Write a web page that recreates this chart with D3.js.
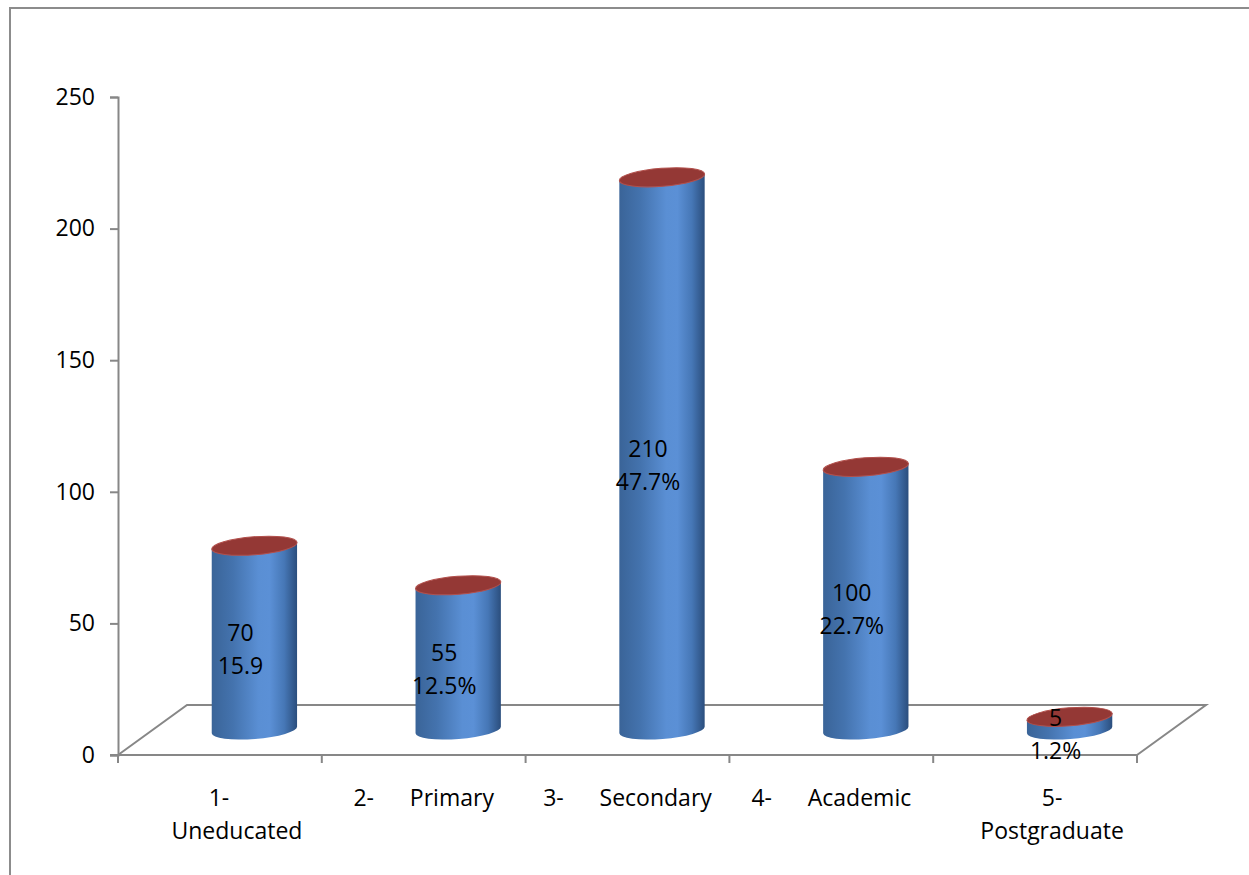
<!DOCTYPE html>
<html>
<head>
<meta charset="utf-8">
<script src="https://cdn.jsdelivr.net/npm/d3@7"></script>
<style>
  html, body { margin: 0; padding: 0; background: #ffffff; }
  svg { display: block; }
  text { font-family: "Open Sans", "DejaVu Sans", sans-serif; fill: #000; }
</style>
</head>
<body>
<svg id="chart" width="1249" height="875"></svg>
<script>
// Education level of respondents (count and share)
const categories = ["1- Uneducated", "2- Primary", "3- Secondary", "4- Academic", "5- Postgraduate"];
const categoryLabelLines = [
  ["1-      ", "Uneducated"],
  ["2-      Primary"],
  ["3-      Secondary"],
  ["4-      Academic"],
  ["5-", "Postgraduate"]
];
const counts = [70, 55, 210, 100, 5];
const shareLabels = ["15.9", "12.5%", "47.7%", "22.7%", "1.2%"];
const yTickValues = [0, 50, 100, 150, 200, 250];

const svg = d3.select("#chart");
const W = 1249, H = 875;

// outer chart frame (continues past the right and bottom edges)
svg.append("rect")
  .attr("x", 10).attr("y", 8)
  .attr("width", W + 20).attr("height", H + 20)
  .attr("fill", "none").attr("stroke", "#8c8c8c").attr("stroke-width", 2);

// front plane of the 3D plot
const plot = { left: 118, right: 1137, top: 97, bottom: 755 };
const depth = { dx: 69, dy: -50 };

const x = d3.scaleBand().domain(categories).range([plot.left, plot.right]).padding(0);
const y = d3.scaleLinear().domain([0, 250]).range([plot.bottom, plot.top]);

const axisColor = "#878787";
const fontSize = 23;

// floor
const floor = svg.append("g").attr("fill", "none").attr("stroke", axisColor).attr("stroke-width", 2);
floor.append("path").attr("d", d3.line()([
  [plot.left, plot.bottom],
  [plot.left + depth.dx, plot.bottom + depth.dy],
  [plot.right + depth.dx, plot.bottom + depth.dy],
  [plot.right, plot.bottom]
]));

// value axis
const yAxis = svg.append("g")
  .attr("transform", `translate(${plot.left},0)`)
  .call(d3.axisLeft(y).tickValues(yTickValues).tickSize(8).tickPadding(15).tickFormat(d3.format("d")));
yAxis.select(".domain").attr("stroke", axisColor).attr("stroke-width", 2);
yAxis.selectAll(".tick line").attr("stroke", axisColor).attr("stroke-width", 2);
yAxis.selectAll(".tick text").attr("font-size", fontSize).attr("font-family", "Open Sans").attr("fill", "#000");

// category axis: boundary ticks
const xAxis = svg.append("g").attr("transform", `translate(0,${plot.bottom})`);
xAxis.append("line")
  .attr("x1", plot.left - 8).attr("x2", plot.right)
  .attr("stroke", axisColor).attr("stroke-width", 2);
const edges = categories.map(c => x(c)).concat([plot.right]);
xAxis.selectAll("line.tk").data(edges).join("line")
  .attr("class", "tk")
  .attr("x1", d => d).attr("x2", d => d)
  .attr("y1", 0).attr("y2", 8)
  .attr("stroke", axisColor).attr("stroke-width", 2);

// category labels (wrapped ones sit a little right of the band centre)
categories.forEach((cat, ci) => {
  const cx = x(cat) + x.bandwidth() / 2;
  const lines = categoryLabelLines[ci];
  const shift = lines.length > 1 ? 17 : 0;
  lines.forEach((ln, i) => {
    svg.append("text")
      .attr("x", cx + shift)
      .attr("y", plot.bottom + 43 + i * 33 + 8)
      .attr("text-anchor", "middle")
      .attr("font-size", fontSize)
      .attr("xml:space", "preserve")
      .style("white-space", "pre")
      .text(ln);
  });
});

// cylinder shading
const defs = svg.append("defs");
const body = defs.append("linearGradient").attr("id", "cylBody").attr("x1", "0").attr("x2", "1").attr("y1", "0").attr("y2", "0");
[[0, "#3a6498"], [0.25, "#4473ae"], [0.55, "#5a8fd4"], [0.68, "#5b90d6"], [0.85, "#4677b6"], [1, "#2b4e7d"]]
  .forEach(([o, c]) => body.append("stop").attr("offset", o).attr("stop-color", c));

const rx = x.bandwidth() * 0.21;
const ry = 9;
const rot = -4.5;
const rad = rot * Math.PI / 180;
const ex = rx * Math.cos(rad), ey = rx * Math.sin(rad);

const bars = svg.append("g");
categories.forEach((cat, i) => {
  const cx = x(cat) + x.bandwidth() / 2 + depth.dx / 2;
  const yb = y(0) + depth.dy / 2;
  const yt = y(counts[i]) + depth.dy / 2;
  // side of the cylinder: straight edges plus the front half of the base ellipse
  const side = `M${cx - ex},${yt - ey} L${cx - ex},${yb - ey}` +
    ` A${rx},${ry} ${rot} 0 0 ${cx + ex},${yb + ey}` +
    ` L${cx + ex},${yt + ey} Z`;
  bars.append("path").attr("d", side).attr("fill", "url(#cylBody)");
  bars.append("ellipse")
    .attr("cx", cx).attr("cy", yt).attr("rx", rx).attr("ry", ry)
    .attr("transform", `rotate(${rot},${cx},${yt})`)
    .attr("fill", "#943835").attr("stroke", "#b2504c").attr("stroke-width", 1);
});

// value and share labels
const labels = svg.append("g");
categories.forEach((cat, i) => {
  const cx = x(cat) + x.bandwidth() / 2 + depth.dx / 2 - 14;
  const mid = y(counts[i] / 2) + depth.dy / 2;
  labels.append("text").attr("x", cx).attr("y", mid - 5 + 8)
    .attr("text-anchor", "middle").attr("font-size", fontSize).text(counts[i]);
  labels.append("text").attr("x", cx).attr("y", mid + 28 + 8)
    .attr("text-anchor", "middle").attr("font-size", fontSize).text(shareLabels[i]);
});
</script>
</body>
</html>
